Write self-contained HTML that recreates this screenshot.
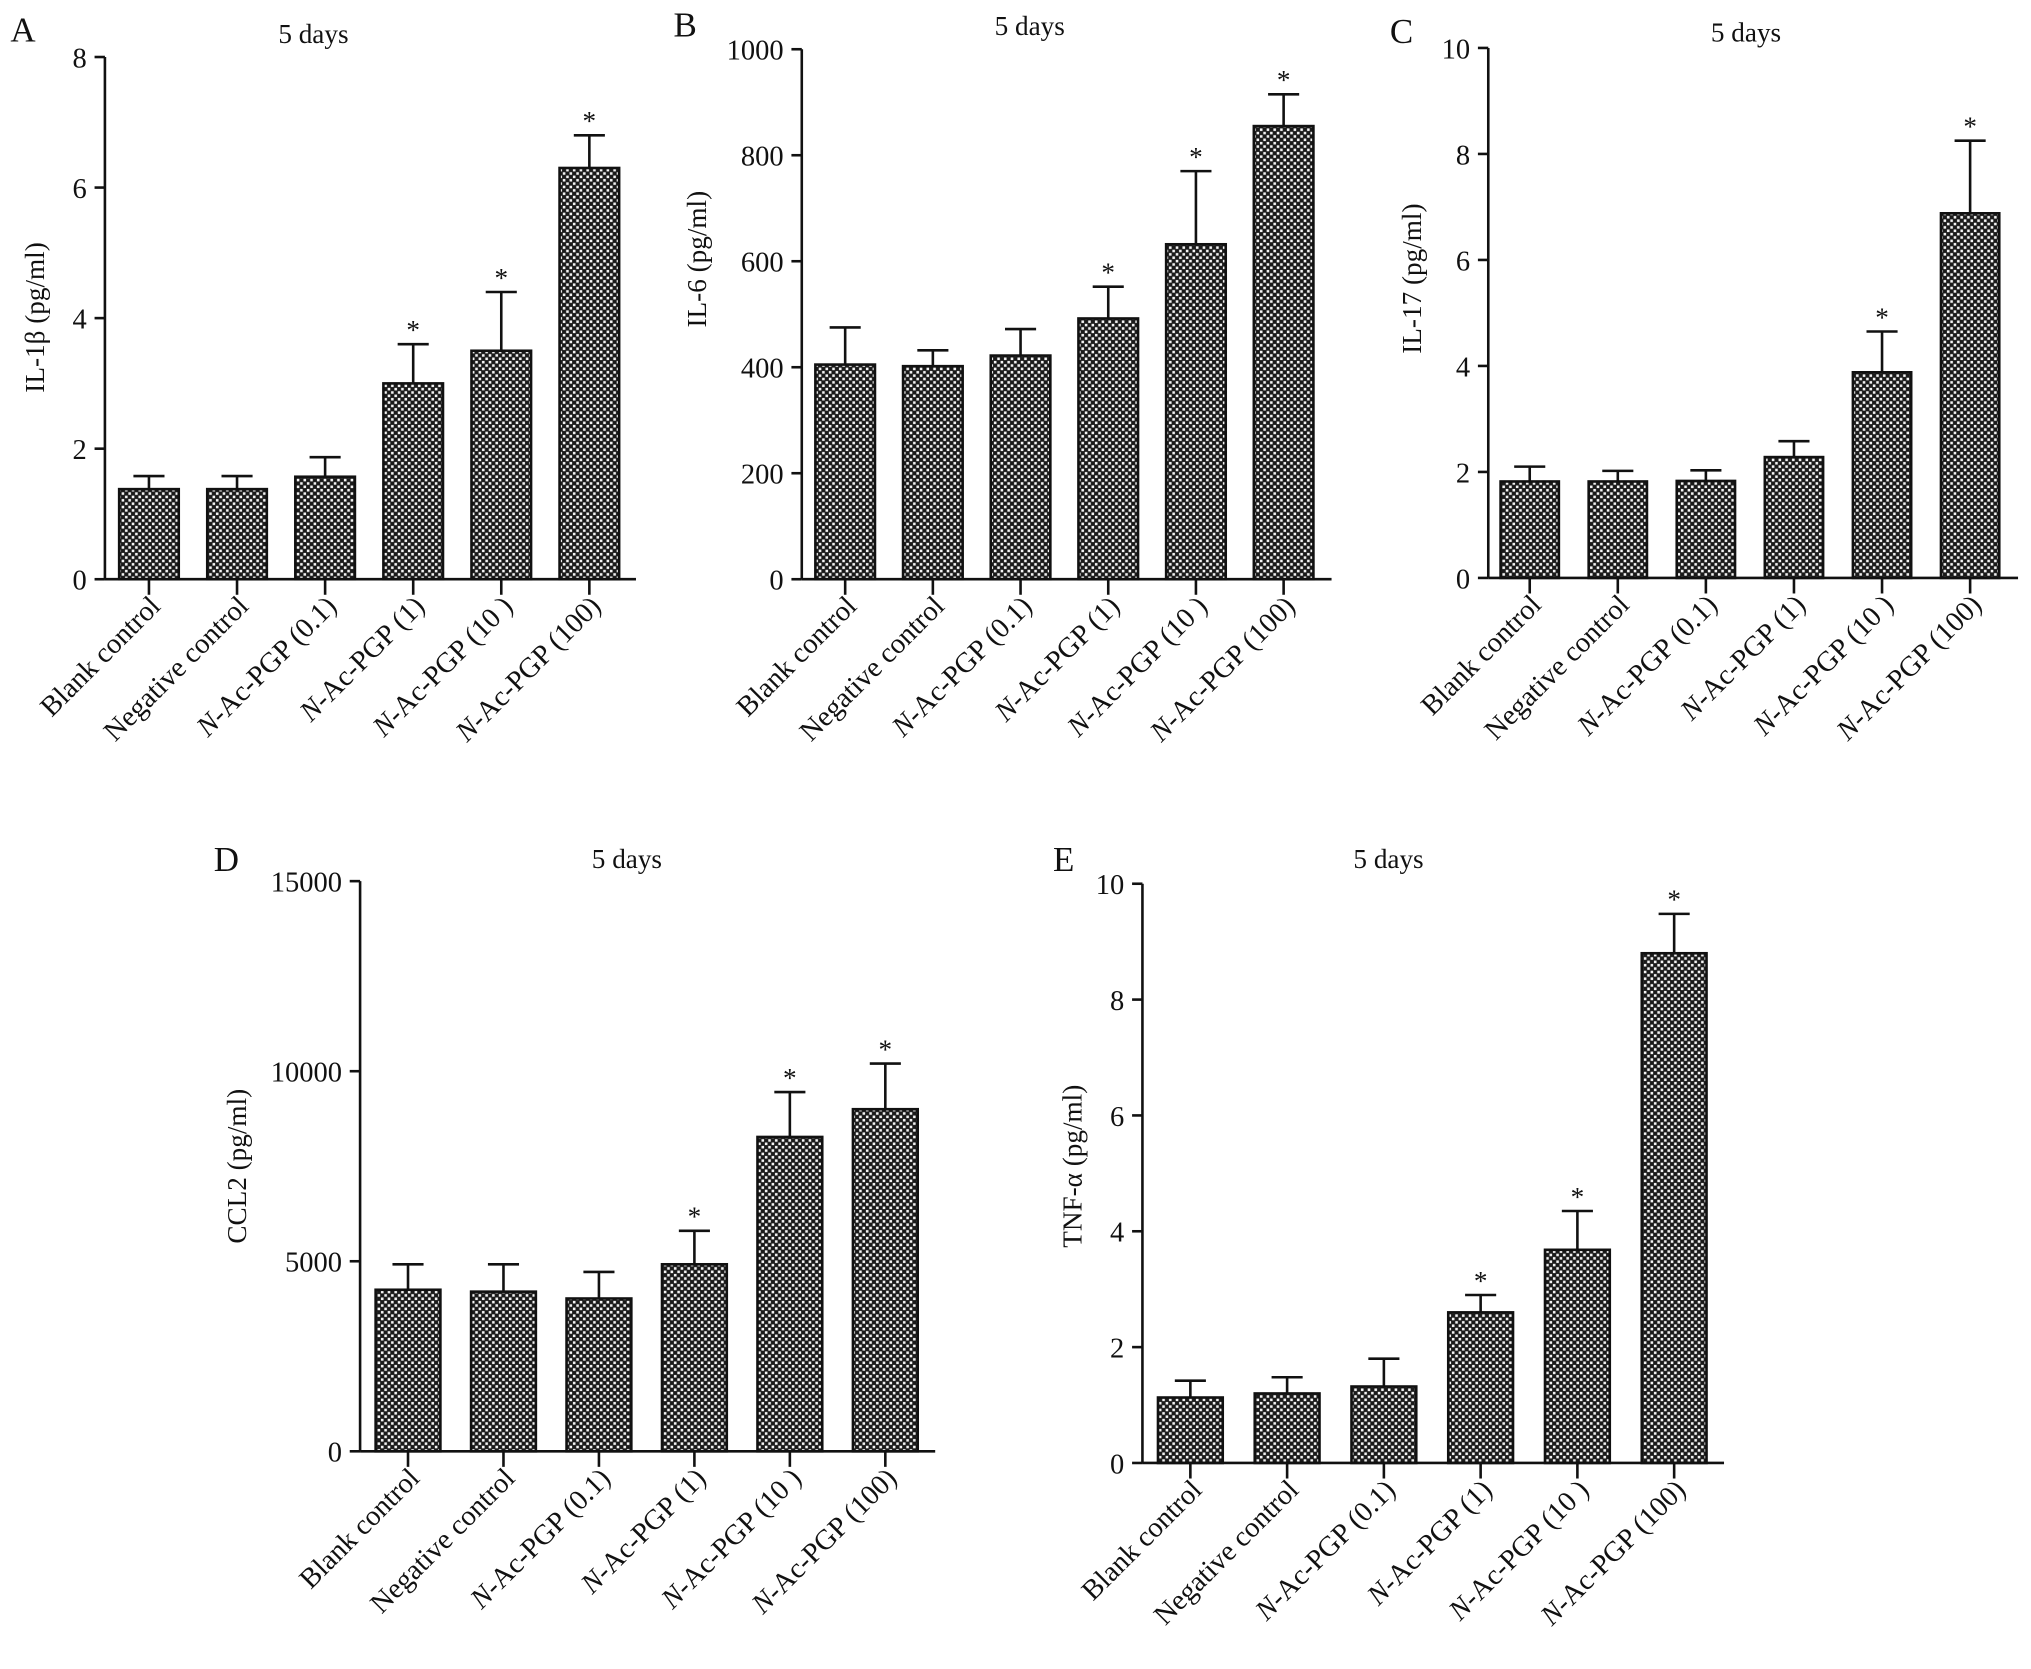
<!DOCTYPE html>
<html><head><meta charset="utf-8"><style>
html,body{margin:0;padding:0;background:#fff}
svg{display:block}
text{font-family:"Liberation Serif",serif;fill:#111}
</style></head><body>
<svg id="fig" width="2031" height="1669" viewBox="0 0 1568 1288" preserveAspectRatio="none">
<defs>
<pattern id="chk" width="5.2" height="5.2" patternUnits="userSpaceOnUse">
<rect width="5.2" height="5.2" fill="#1a1a1a"/>
<rect x="0.3" y="0.3" width="2" height="2" fill="#f4f4f4"/>
<rect x="2.9" y="2.9" width="2" height="2" fill="#f4f4f4"/>
</pattern>
</defs>
</svg>
<script>
const categories = ["Blank control","Negative control","N-Ac-PGP (0.1)","N-Ac-PGP (1)","N-Ac-PGP (10 )","N-Ac-PGP (100)"];
const valuesA = [1.38,1.38,1.57,3.0,3.5,6.3];
const errA = [1.58,1.58,1.87,3.6,4.4,6.8];
const starsA = [0,0,0,1,1,1];
const ticksA = [0,2,4,6,8];
const valuesB = [405,402,422,492,632,855];
const errB = [475,432,472,552,770,915];
const starsB = [0,0,0,1,1,1];
const ticksB = [0,200,400,600,800,1000];
const valuesC = [1.82,1.82,1.83,2.28,3.88,6.88];
const errC = [2.1,2.02,2.03,2.58,4.65,8.25];
const starsC = [0,0,0,0,1,1];
const ticksC = [0,2,4,6,8,10];
const valuesD = [4250,4200,4020,4920,8270,9000];
const errD = [4920,4920,4720,5800,9450,10200];
const starsD = [0,0,0,1,1,1];
const ticksD = [0,5000,10000,15000];
const valuesE = [1.13,1.2,1.32,2.6,3.68,8.8];
const errE = [1.42,1.48,1.8,2.9,4.35,9.48];
const starsE = [0,0,0,1,1,1];
const ticksE = [0,2,4,6,8,10];

const NS="http://www.w3.org/2000/svg";
const svg=document.getElementById('fig');
function mk(tag,attrs,parent,txt){const e=document.createElementNS(NS,tag);for(const k in attrs)e.setAttribute(k,attrs[k]);if(txt!==undefined)e.textContent=txt;(parent||svg).appendChild(e);return e;}

const panels=[
 {id:'a',letter:'A',lx:8,ly:32,title:'5 days',tx:242,ty:33,ax:81,y0:447,y1:44,ymax:8,xend:491,c0:115,step:68,bw:46,ylab:'IL-1β  (pg/ml)',ylx:34,yly:245,vals:valuesA,err:errA,stars:starsA,ticks:ticksA},
 {id:'b',letter:'B',lx:520,ly:28,title:'5 days',tx:795,ty:27,ax:619,y0:447,y1:38,ymax:1000,xend:1028,c0:652.5,step:67.7,bw:46,ylab:'IL-6 (pg/ml)',ylx:545,yly:200,vals:valuesB,err:errB,stars:starsB,ticks:ticksB},
 {id:'c',letter:'C',lx:1073,ly:33,title:'5 days',tx:1348,ty:32,ax:1149,y0:446,y1:37,ymax:10,xend:1558,c0:1181,step:68,bw:45,ylab:'IL-17 (pg/ml)',ylx:1097,yly:215,vals:valuesC,err:errC,stars:starsC,ticks:ticksC},
 {id:'d',letter:'D',lx:165,ly:672,title:'5 days',tx:484,ty:670,ax:278,y0:1120,y1:680,ymax:15000,xend:722,c0:315,step:73.7,bw:50,ylab:'CCL2 (pg/ml)',ylx:190,yly:900,vals:valuesD,err:errD,stars:starsD,ticks:ticksD},
 {id:'e',letter:'E',lx:813,ly:672,title:'5 days',tx:1072,ty:670,ax:882,y0:1129,y1:682,ymax:10,xend:1331,c0:919,step:74.7,bw:50,ylab:'TNF-α (pg/ml)',ylx:835,yly:900,vals:valuesE,err:errE,stars:starsE,ticks:ticksE}
];

panels.forEach(p=>{
 const g=mk('g',{});
 
 
 const yS=v=>p.y0-(v/p.ymax)*(p.y0-p.y1);
 const xS=i=>p.c0+i*p.step;
 let t=mk('text',{x:p.lx,y:p.ly,'font-size':27},g,p.letter);
 
 
 t=mk('text',{x:p.tx,y:p.ty,'font-size':21,'text-anchor':'middle'},g,p.title);
 
 
 t=mk('text',{x:p.ylx,y:p.yly,'font-size':21,'text-anchor':'middle',transform:`rotate(-90 ${p.ylx} ${p.yly})`},g,p.ylab);
 
 
 p.vals.forEach((v,i)=>{
  const cx=xS(i), top=yS(v), et=yS(p.err[i]);
  const eb=mk('path',{d:`M${cx} ${top}V${et}M${cx-12} ${et}H${cx+12}`,stroke:'#111','stroke-width':2,fill:'none'},g);
  
  
  const r=mk('rect',{x:cx-p.bw/2,y:top,width:p.bw,height:p.y0-top,fill:'url(#chk)',stroke:'#111','stroke-width':2},g);
  
  
  if(p.stars[i]){const s=mk('text',{x:cx,y:et-4,'font-size':21,'text-anchor':'middle'},g,'*');
   
   }
  const tk=mk('line',{x1:cx,y1:p.y0,x2:cx,y2:p.y0+12,stroke:'#111','stroke-width':2},g);
  
  
  const lx=cx+10, ly=p.y0+22;
  const lab=mk('text',{x:lx,y:ly,'font-size':22,'text-anchor':'end',transform:`rotate(-45 ${lx} ${ly})`},g);
  
  
  const c=categories[i];
  if(c.startsWith('N-')){mk('tspan',{'font-style':'italic'},lab,'N');mk('tspan',{},lab,c.slice(1));}
  else lab.textContent=c;
 });
 const ya=mk('line',{x1:p.ax,y1:p.y1,x2:p.ax,y2:p.y0,stroke:'#111','stroke-width':2},g);
 
 
 const xa=mk('line',{x1:p.ax,y1:p.y0,x2:p.xend,y2:p.y0,stroke:'#111','stroke-width':2},g);
 
 
 p.ticks.forEach(v=>{
  const y=yS(v);
  const l=mk('line',{x1:p.ax-8,y1:y,x2:p.ax,y2:y,stroke:'#111','stroke-width':2},g);
  
  
  const tl=mk('text',{x:p.ax-14,y:y+8,'font-size':22,'text-anchor':'end'},g,String(v));
  
  
 });
});
</script>
</body></html>
